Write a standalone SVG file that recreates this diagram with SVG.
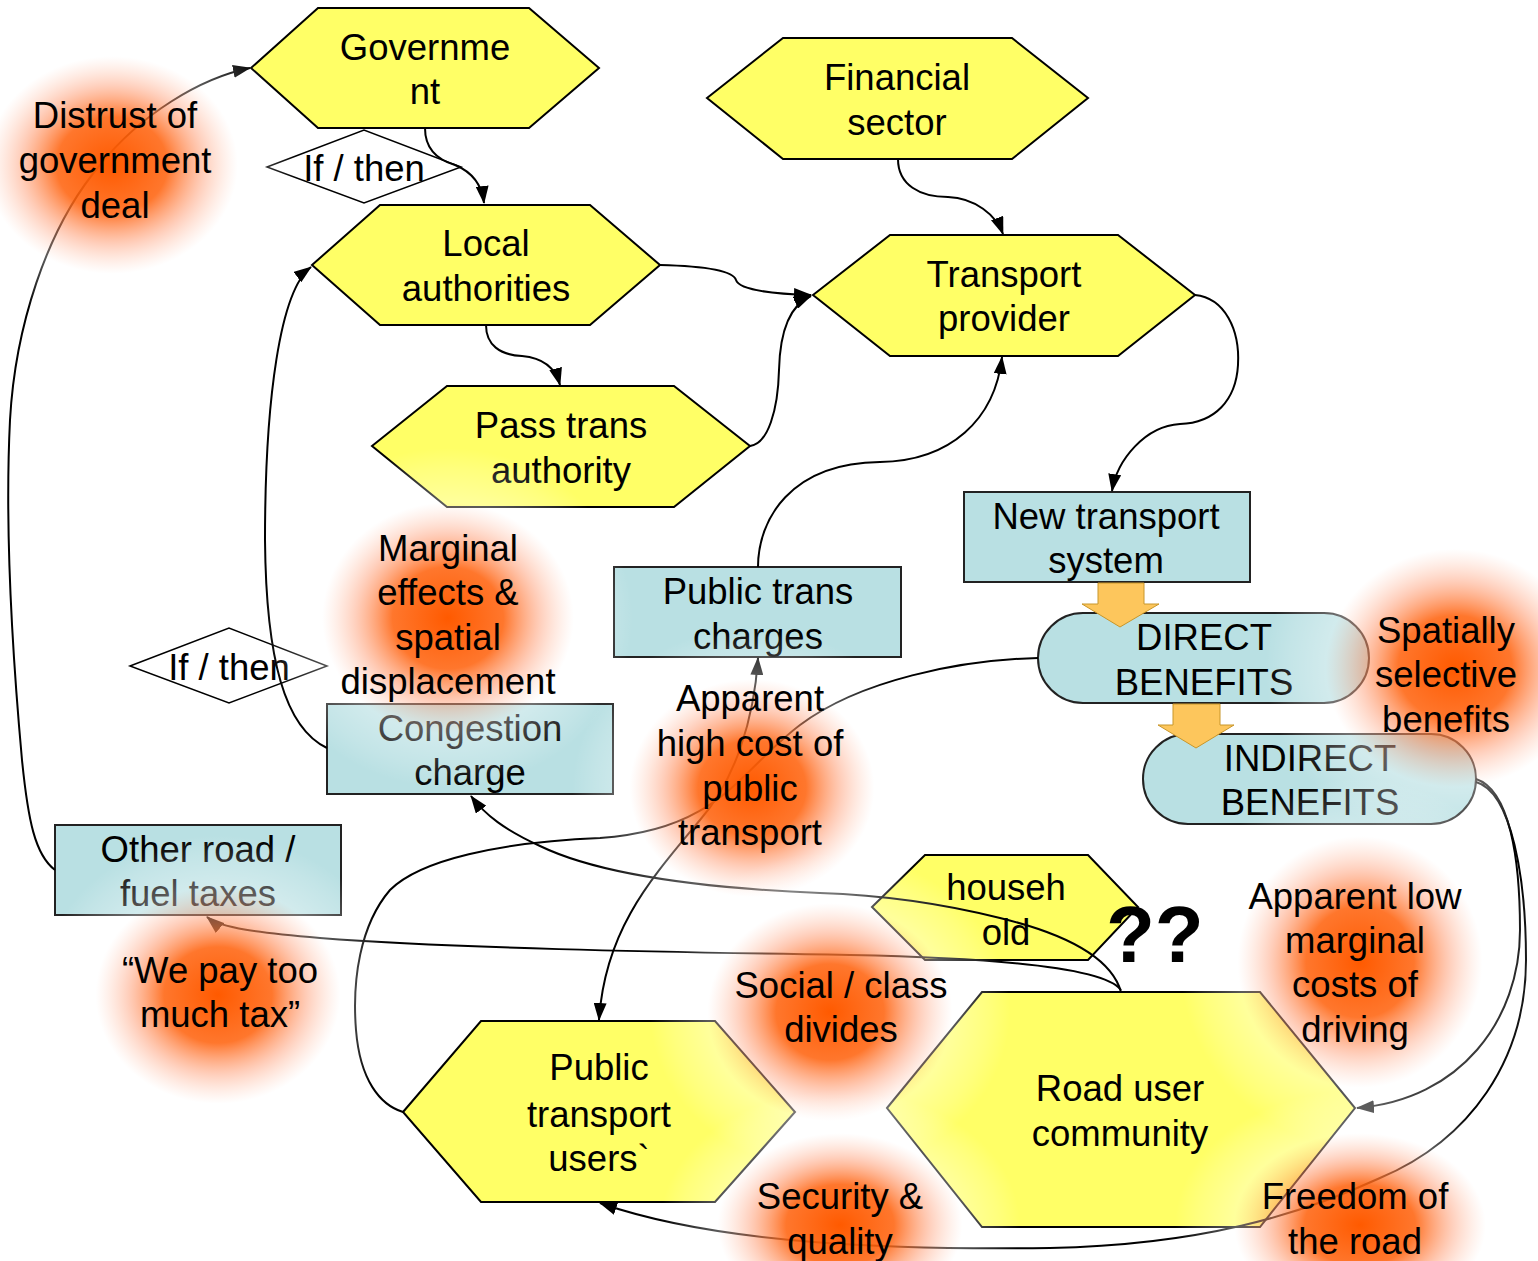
<svg xmlns="http://www.w3.org/2000/svg" width="1538" height="1261" viewBox="0 0 1538 1261">
<defs>
<style>
.hex{fill:#ffff66;stroke:#000;stroke-width:2}
.box{fill:#b9e0e3;stroke:#222;stroke-width:2}
.dia{fill:#fff;stroke:#000;stroke-width:1.5}
.t{font-family:"Liberation Sans",Arial,sans-serif;font-size:36.5px;text-anchor:middle;fill:#000}
.c{fill:none;stroke:#000;stroke-width:2}
.blk{fill:#fdc65c;stroke:#c8962a;stroke-width:1}
.q{font-family:"Liberation Sans",Arial,sans-serif;font-size:80px;font-weight:bold;fill:#000}
</style>
<marker id="ah" viewBox="0 0 18 13" refX="17" refY="6.5" markerWidth="18" markerHeight="13" markerUnits="userSpaceOnUse" orient="auto-start-reverse">
<path d="M0,0 L18,6.5 L0,13 z" fill="#000"/>
</marker>
<radialGradient id="glow">
<stop offset="0" stop-color="#ff5a00" stop-opacity="1"/>
<stop offset="0.3" stop-color="#ff6410" stop-opacity="0.88"/>
<stop offset="0.5" stop-color="#ffa07a" stop-opacity="0.5"/>
<stop offset="0.68" stop-color="#ffffff" stop-opacity="0.35"/>
<stop offset="0.88" stop-color="#ffffff" stop-opacity="0.15"/>
<stop offset="1" stop-color="#ffffff" stop-opacity="0"/>
</radialGradient>
</defs>
<rect width="1538" height="1261" fill="#fff"/>

<g id="government"><polygon class="hex" points="251,68 318,8 529,8 599,68 529,128 318,128"/><text class="t" x="425" y="60">Governme<tspan x="425" y="104">nt</tspan></text></g>
<g id="ifthen1"><polygon class="dia" points="267,167 364,130 461,167 364,203"/><text class="t" x="364" y="181">If / then</text></g>
<g id="local"><polygon class="hex" points="312,265 380,205 590,205 660,265 590,325 380,325"/><text class="t" x="486" y="256">Local<tspan x="486" y="301">authorities</tspan></text></g>
<g id="financial"><polygon class="hex" points="707,98 783,38 1012,38 1088,98 1012,159 783,159"/><text class="t" x="897" y="90">Financial<tspan x="897" y="135">sector</tspan></text></g>
<g id="transport"><polygon class="hex" points="813,295 890,235 1118,235 1195,295 1118,356 890,356"/><text class="t" x="1004" y="287">Transport<tspan x="1004" y="331">provider</tspan></text></g>
<g id="passtrans"><polygon class="hex" points="372,446 447,386 674,386 750,446 674,507 447,507"/><text class="t" x="561" y="438">Pass trans<tspan x="561" y="483">authority</tspan></text></g>
<g id="newtransport"><rect class="box" x="964" y="492" width="286" height="90"/><text class="t" x="1106" y="529">New transport<tspan x="1106" y="573">system</tspan></text></g>
<g id="ptcharges"><rect class="box" x="614" y="567" width="287" height="90"/><text class="t" x="758" y="604">Public trans<tspan x="758" y="649">charges</tspan></text></g>
<g id="direct"><rect class="box" x="1038" y="613" width="331" height="90" rx="45" ry="45"/><text class="t" x="1204" y="650">DIRECT<tspan x="1204" y="695">BENEFITS</tspan></text></g>
<g id="indirect"><rect class="box" x="1143" y="734" width="333" height="90" rx="45" ry="45"/><text class="t" x="1310" y="771">INDIRECT<tspan x="1310" y="815">BENEFITS</tspan></text></g>
<g id="ifthen2"><polygon class="dia" points="130,666 229,628 327,666 229,703"/><text class="t" x="229" y="680">If / then</text></g>
<g id="congestion"><rect class="box" x="327" y="704" width="286" height="90"/><text class="t" x="470" y="741">Congestion<tspan x="470" y="785">charge</tspan></text></g>
<g id="otherroad"><rect class="box" x="55" y="825" width="286" height="90"/><text class="t" x="198" y="862">Other road /<tspan x="198" y="906">fuel taxes</tspan></text></g>
<g id="household"><polygon class="hex" points="872,907 925,855 1088,855 1138,907 1088,960 925,960"/><text class="t" x="1006" y="900">househ<tspan x="1006" y="945">old</tspan></text></g>
<g id="roaduser"><polygon class="hex" points="887,1108 982,992 1260,992 1355,1108 1260,1227 982,1227"/><text class="t" x="1120" y="1101">Road user<tspan x="1120" y="1146">community</tspan></text></g>
<g id="ptusers"><polygon class="hex" points="403,1112 481,1021 715,1021 795,1112 715,1202 481,1202"/><text class="t" x="599" y="1080">Public<tspan x="599" y="1127">transport</tspan><tspan x="599" y="1171">users`</tspan></text></g>

<g id="connectors">
<path class="c" marker-end="url(#ah)" d="M425,128 C425,150 438,160 455,165 C472,172 482,185 484,203"/>
<path class="c" marker-end="url(#ah)" d="M55,870 C35,855 28,820 22,760 C12,650 5,520 10,420 C15,330 45,230 100,165 C140,115 200,78 250,68"/>
<path class="c" marker-end="url(#ah)" d="M327,748 C285,728 266,660 265,540 C265,400 280,290 311,267"/>
<path class="c" marker-end="url(#ah)" d="M660,265 C700,266 733,270 736,280 C739,290 775,294 811,295"/>
<path class="c" marker-end="url(#ah)" d="M486,325 C486,345 500,355 522,356 C545,358 556,370 560,385"/>
<path class="c" marker-end="url(#ah)" d="M750,446 C768,444 778,410 779,370 C780,330 790,305 811,296"/>
<path class="c" marker-end="url(#ah)" d="M898,159 C898,185 920,197 948,197 C975,198 996,215 1003,234"/>
<path class="c" marker-end="url(#ah)" d="M1195,295 C1225,298 1240,330 1238,365 C1236,400 1215,423 1180,424 C1145,426 1117,460 1112,491"/>
<path class="c" marker-end="url(#ah)" d="M758,567 C758,520 790,463 880,462 C950,461 995,420 1002,357"/>
<path class="c" d="M1038,658 C960,660 860,680 800,725 C740,770 720,830 600,838 C500,842 420,860 390,890 C360,925 352,980 356,1030 C360,1080 380,1105 403,1112"/>
<path class="c" marker-start="url(#ah)" marker-end="url(#ah)" d="M758,658 C754,720 735,780 700,820 C650,880 605,930 599,1020"/>
<path class="c" marker-end="url(#ah)" d="M1121,992 C1112,960 1070,935 1000,918 C940,903 880,895 820,893 C700,888 600,875 540,846 C505,830 485,815 471,796"/>
<path class="c" marker-end="url(#ah)" d="M1121,990 C1105,968 1000,958 850,955 C650,952 450,948 320,938 C260,933 220,928 207,917"/>
<path class="c" marker-end="url(#ah)" d="M1476,779 C1510,790 1520,860 1520,930 C1520,1020 1460,1100 1357,1108"/>
<path class="c" marker-end="url(#ah)" d="M1476,782 C1512,792 1526,880 1526,960 C1526,1060 1470,1140 1380,1178 C1300,1215 1200,1245 1050,1248 C900,1250 720,1245 600,1203"/>
<polygon class="blk" points="1098,583 1144,583 1144,604 1159,604 1120,627 1082,604 1098,604"/>
<polygon class="blk" points="1173,704 1220,704 1220,725 1234,725 1196,748 1158,725 1173,725"/>
</g>

<g id="glows">
<ellipse cx="112" cy="165" rx="185" ry="160" fill="url(#glow)"/>
<ellipse cx="448" cy="618" rx="185" ry="170" fill="url(#glow)"/>
<ellipse cx="752" cy="788" rx="180" ry="160" fill="url(#glow)"/>
<ellipse cx="1455" cy="668" rx="190" ry="175" fill="url(#glow)"/>
<ellipse cx="218" cy="995" rx="180" ry="160" fill="url(#glow)"/>
<ellipse cx="830" cy="1012" rx="180" ry="160" fill="url(#glow)"/>
<ellipse cx="1360" cy="962" rx="180" ry="185" fill="url(#glow)"/>
<ellipse cx="840" cy="1225" rx="180" ry="135" fill="url(#glow)"/>
<ellipse cx="1360" cy="1225" rx="185" ry="135" fill="url(#glow)"/>
</g>

<g id="labels">
<text class="t" x="115" y="128">Distrust of<tspan x="115" y="173">government</tspan><tspan x="115" y="218">deal</tspan></text>
<text class="t" x="448" y="561">Marginal<tspan x="448" y="605">effects &amp;</tspan><tspan x="448" y="650">spatial</tspan><tspan x="448" y="694">displacement</tspan></text>
<text class="t" x="750" y="711">Apparent<tspan x="750" y="756">high cost of</tspan><tspan x="750" y="801">public</tspan><tspan x="750" y="845">transport</tspan></text>
<text class="t" x="1446" y="643">Spatially<tspan x="1446" y="687">selective</tspan><tspan x="1446" y="732">benefits</tspan></text>
<text class="t" x="220" y="983">“We pay too<tspan x="220" y="1027">much tax”</tspan></text>
<text class="t" x="841" y="998">Social / class<tspan x="841" y="1042">divides</tspan></text>
<text class="t" x="1355" y="909">Apparent low<tspan x="1355" y="953">marginal</tspan><tspan x="1355" y="997">costs of</tspan><tspan x="1355" y="1042">driving</tspan></text>
<text class="t" x="840" y="1209">Security &amp;<tspan x="840" y="1254">quality</tspan></text>
<text class="t" x="1355" y="1209">Freedom of<tspan x="1355" y="1254">the road</tspan></text>
<text class="q" x="1106" y="962">??</text>
</g>
</svg>
